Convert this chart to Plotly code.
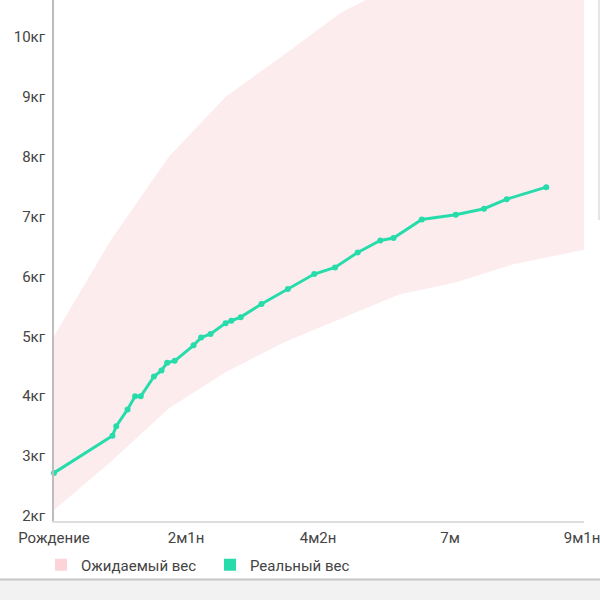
import plotly.graph_objects as go

# Expected weight band (monthly knots, x in days since birth)
band_days = [0, 30, 61, 91, 122, 152, 183, 213, 243, 274, 304]
band_low = [2.1, 2.9, 3.8, 4.4, 4.9, 5.3, 5.7, 5.9, 6.2, 6.4, 6.6]
band_high = [5.0, 6.6, 8.0, 9.0, 9.7, 10.4, 10.9, 11.4, 11.9, 12.3, 12.7]

# Real weight measurements
real_days = [0, 31, 33, 39, 43, 46, 53, 57, 60, 64, 74, 78, 83, 91, 94, 99,
             110, 124, 138, 149, 161, 173, 180, 195, 213, 228, 240, 261]
real_kg = [2.72, 3.34, 3.50, 3.78, 4.00, 4.00, 4.33, 4.43, 4.56, 4.59, 4.85,
           4.98, 5.04, 5.22, 5.26, 5.32, 5.54, 5.79, 6.04, 6.15, 6.40, 6.60,
           6.64, 6.95, 7.03, 7.13, 7.29, 7.49]

# Axis ticks
x_tickvals = [0, 70, 140, 210, 280]
x_ticktext = ["Рождение", "2м1н", "4м2н", "7м", "9м1н"]
y_tickvals = [2, 3, 4, 5, 6, 7, 8, 9, 10]
y_ticktext = [f"{v}кг" for v in y_tickvals]

legend_names = ["Ожидаемый вес", "Реальный вес"]

PINK_FILL = "rgba(250,200,205,0.35)"
PINK_LEG = "#fcd3d7"
GREEN = "#27dcaa"
TEXT = "#444444"
FS = 15

fig = go.Figure()

fig.add_trace(go.Scatter(x=band_days, y=band_low, mode="lines",
                         line=dict(width=0, color=PINK_FILL),
                         showlegend=False, hoverinfo="skip"))
fig.add_trace(go.Scatter(x=band_days, y=band_high, mode="lines",
                         line=dict(width=0, color=PINK_FILL),
                         fill="tonexty", fillcolor=PINK_FILL,
                         showlegend=False, hoverinfo="skip"))
fig.add_trace(go.Scatter(x=real_days, y=real_kg, mode="lines+markers",
                         line=dict(color=GREEN, width=3),
                         marker=dict(color=GREEN, size=6),
                         cliponaxis=False, showlegend=False))

# legend entries (square swatches)
fig.add_trace(go.Scatter(x=[None], y=[None], mode="markers", name=legend_names[0],
                         marker=dict(symbol="square", size=12, color=PINK_LEG)))
fig.add_trace(go.Scatter(x=[None], y=[None], mode="markers", name=legend_names[1],
                         marker=dict(symbol="square", size=12, color=GREEN)))

W, H = 600, 600
ml, mr, mt, mb = 54, 16, 0, 79
pw, ph = W - ml - mr, H - mt - mb

def px_x(p):
    return (p - ml) / pw

def px_y(p):
    return 1 - (p - mt) / ph

shapes = [
    # bottom grey strip
    dict(type="rect", xref="paper", yref="paper", x0=px_x(0), x1=px_x(600),
         y0=px_y(580), y1=px_y(601), fillcolor="#f2f2f2", line=dict(width=0), layer="below"),
    dict(type="line", xref="paper", yref="paper", x0=px_x(0), x1=px_x(600),
         y0=px_y(579.5), y1=px_y(579.5), line=dict(color="#c6c6c6", width=2)),
    # right card edge
    dict(type="line", xref="paper", yref="paper", x0=px_x(599), x1=px_x(599),
         y0=px_y(220), y1=px_y(0), line=dict(color="#dddddd", width=1.5)),
]

fig.update_layout(
    width=W, height=H,
    margin=dict(l=ml, r=mr, t=mt, b=mb, autoexpand=False),
    paper_bgcolor="white", plot_bgcolor="white",
    font=dict(family="Roboto", size=FS, color=TEXT),
    showlegend=True,
    legend=dict(orientation="h", x=px_x(41), xanchor="left",
                y=px_y(565), yanchor="middle", traceorder="normal",
                entrywidth=124, entrywidthmode="pixels",
                font=dict(size=FS, color=TEXT), bgcolor="rgba(0,0,0,0)",
                itemclick=False),
    shapes=shapes,
    xaxis=dict(range=[0, 281], tickvals=x_tickvals, ticktext=x_ticktext,
               showgrid=False, zeroline=False, showline=True, automargin=False,
               linecolor="#dddddd", linewidth=1.5, ticks="",
               ticklabelstandoff=2, ticklabeloverflow="allow",
               tickfont=dict(size=FS, color=TEXT)),
    yaxis=dict(range=[1.917, 10.614], tickvals=y_tickvals, ticktext=y_ticktext,
               showgrid=False, zeroline=False, showline=True, automargin=False,
               linecolor="#bdbdbd", linewidth=2, ticks="",
               ticklabelstandoff=4, ticklabeloverflow="allow",
               tickfont=dict(size=FS, color=TEXT)),
)

fig.write_html("out.html", config={"displayModeBar": False},
               post_script="document.body.style.margin='0px';")
